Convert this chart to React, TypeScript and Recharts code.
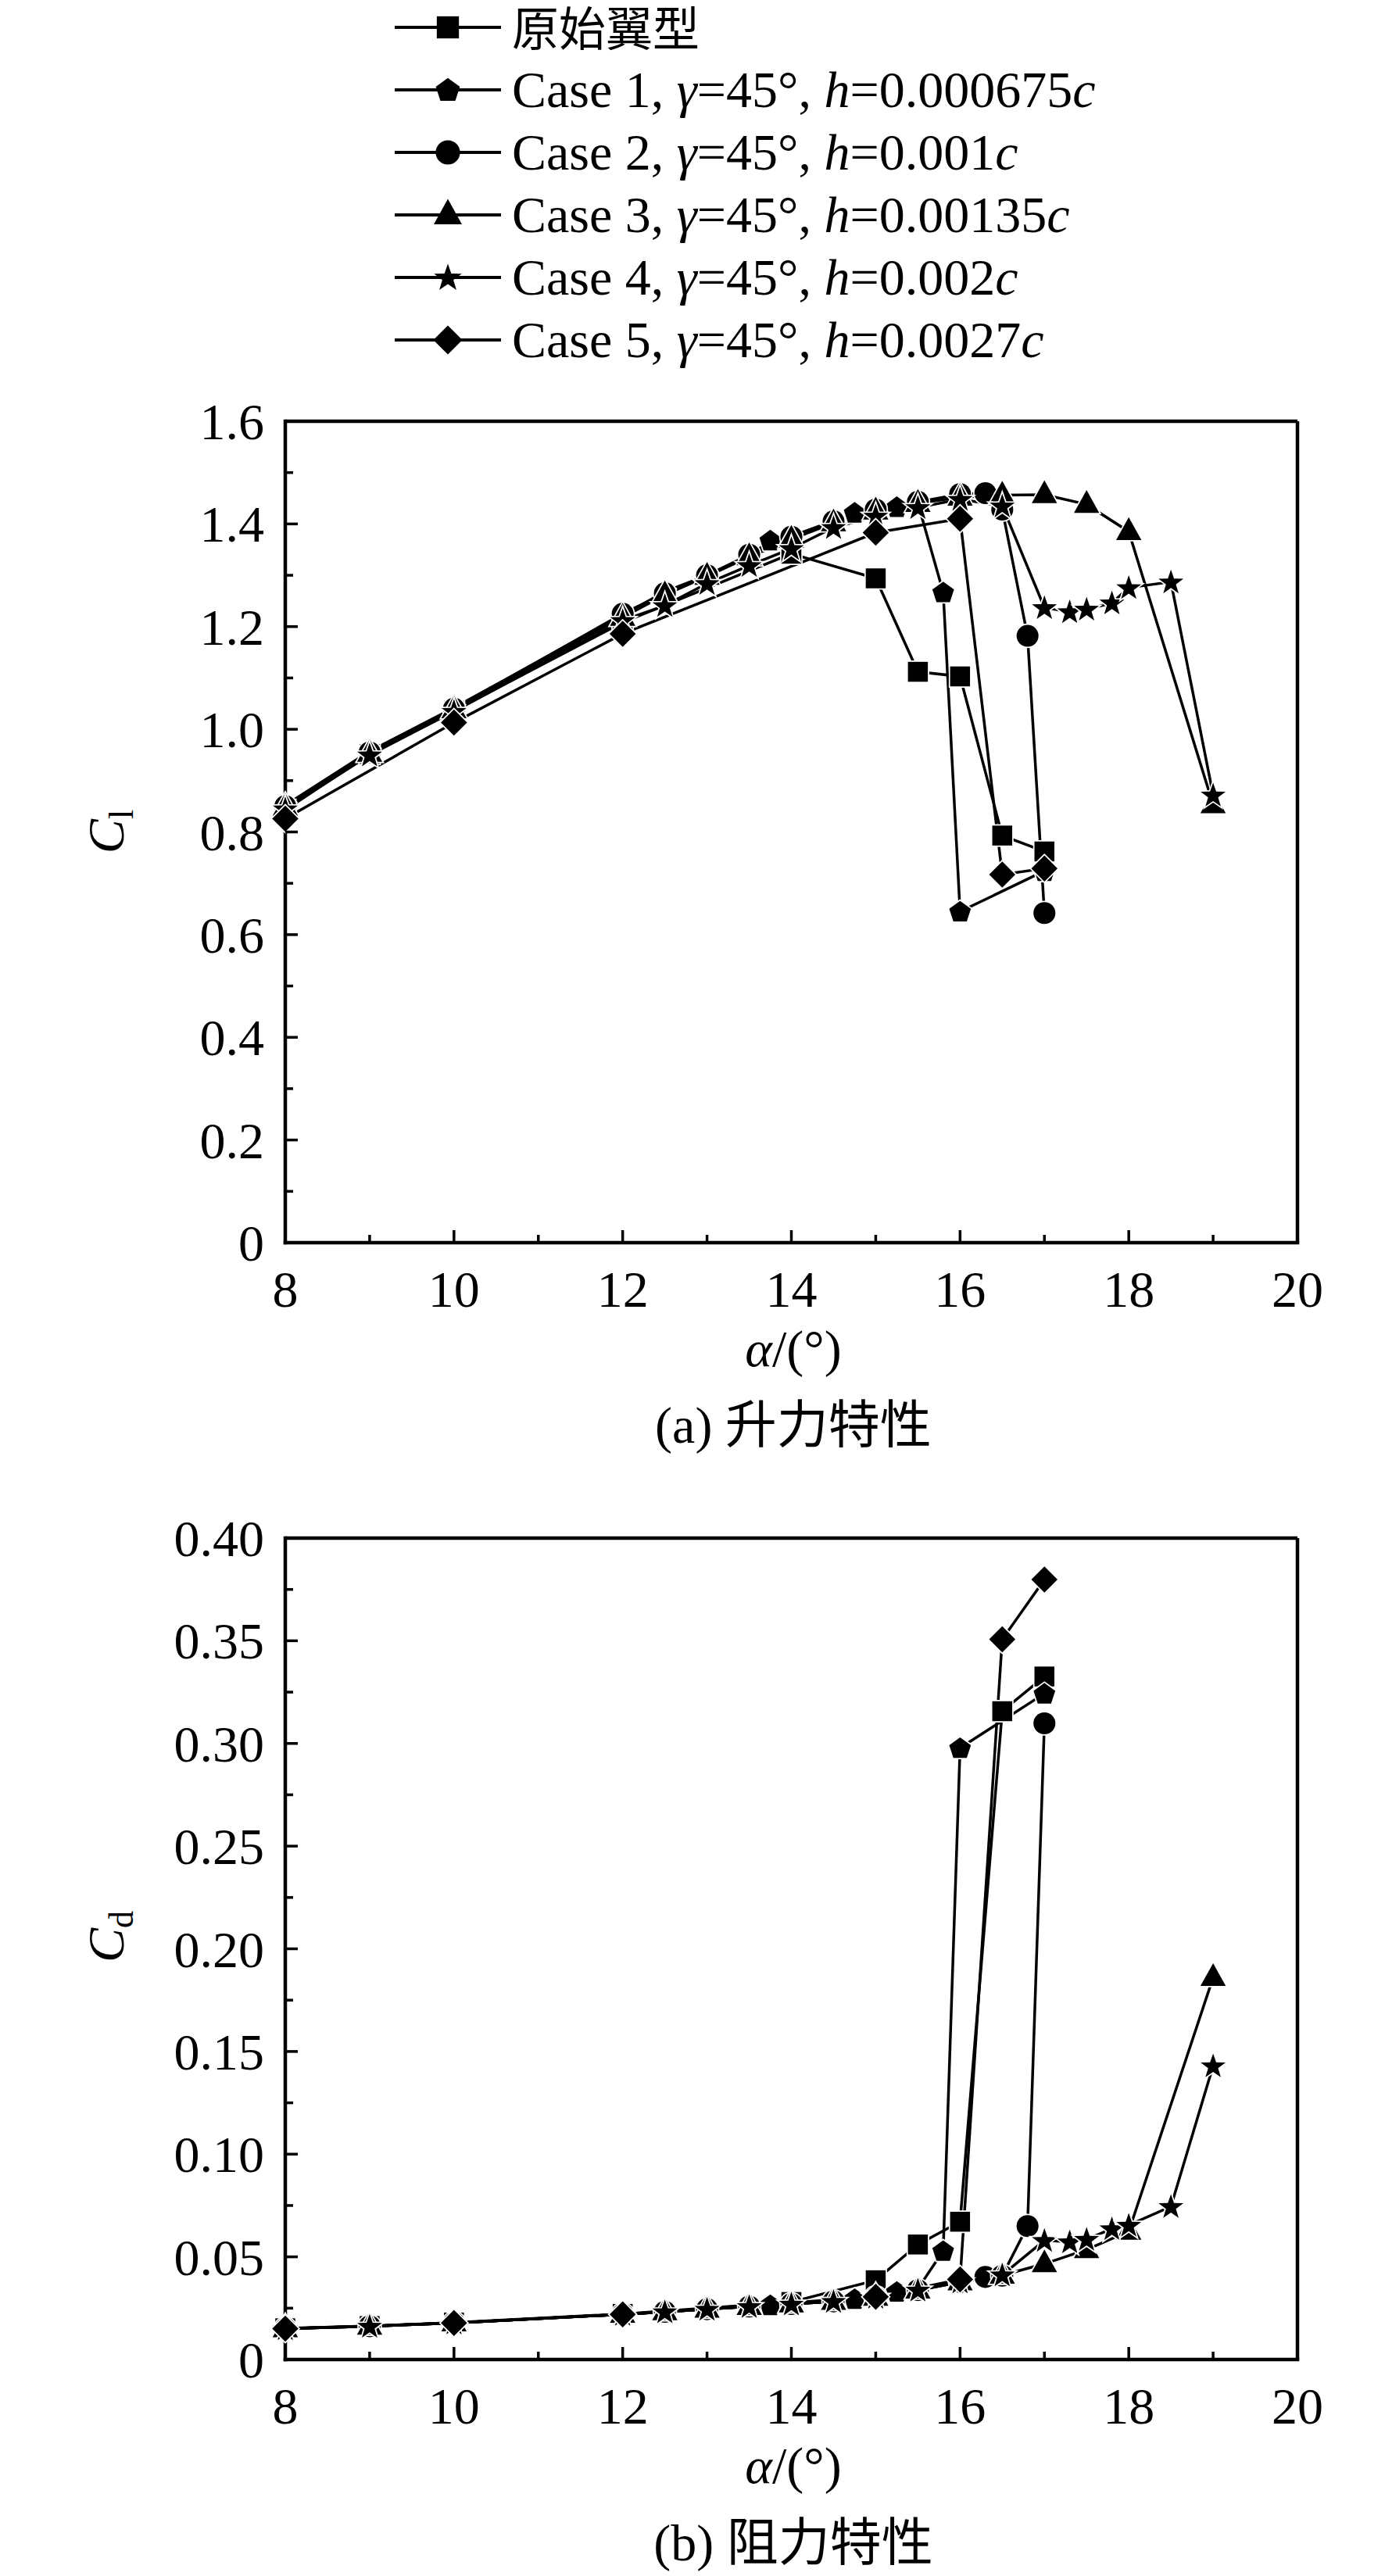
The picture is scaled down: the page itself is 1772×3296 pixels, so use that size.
import React from "react";
import { Line, LineChart, ReferenceLine, XAxis, YAxis } from "recharts";

const FONT = '"Liberation Serif", "Times New Roman", "Noto Sans CJK SC", serif';

// angle of attack ticks and axis ticks
const alphaTicks = [8, 9, 10, 11, 12, 13, 14, 15, 16, 17, 18, 19, 20];
const clTicks = [0, 0.1, 0.2, 0.3, 0.4, 0.5, 0.6, 0.7, 0.8, 0.9, 1.0, 1.1, 1.2, 1.3, 1.4, 1.5, 1.6];
const cdTicks = [0, 0.025, 0.05, 0.075, 0.1, 0.125, 0.15, 0.175, 0.2, 0.225, 0.25, 0.275, 0.3, 0.325, 0.35, 0.375, 0.4];

// 原始翼型
const sqAlpha = [8, 9, 10, 12, 14, 15, 15.5, 16, 16.5, 17];
const sqCl = [0.843, 0.952, 1.036, 1.208, 1.342, 1.294, 1.112, 1.103, 0.793, 0.762];
const sqCd = [0.0152, 0.0163, 0.018, 0.0222, 0.028, 0.0386, 0.056, 0.0671, 0.3157, 0.3326];

// Case 1
const c1Alpha = [8, 9, 10, 12, 12.5, 13, 13.5, 13.75, 14, 14.5, 14.75, 15, 15.25, 15.5, 15.8, 16, 17];
const c1Cl = [0.852, 0.957, 1.042, 1.222, 1.268, 1.3, 1.337, 1.368, 1.376, 1.406, 1.422, 1.43, 1.433, 1.44, 1.267, 0.645, 0.724];
const c1Cd = [0.015, 0.0162, 0.0178, 0.022, 0.0232, 0.0245, 0.0258, 0.0265, 0.027, 0.0285, 0.0295, 0.0305, 0.033, 0.0345, 0.0529, 0.2978, 0.3243];

// Case 2
const c2Alpha = [8, 9, 10, 12, 12.5, 13, 13.5, 14, 14.5, 15, 15.5, 16, 16.3, 16.5, 16.8, 17];
const c2Cl = [0.85, 0.955, 1.04, 1.225, 1.265, 1.3, 1.34, 1.375, 1.405, 1.428, 1.443, 1.458, 1.46, 1.428, 1.182, 0.642];
const c2Cd = [0.015, 0.0162, 0.0178, 0.022, 0.0232, 0.0245, 0.0258, 0.027, 0.0283, 0.0303, 0.0338, 0.0377, 0.0402, 0.0408, 0.065, 0.3098];

// Case 3
const c3Alpha = [8, 9, 10, 12, 12.5, 13, 13.5, 14, 14.5, 15, 15.5, 16, 16.5, 17, 17.5, 18, 19];
const c3Cl = [0.848, 0.953, 1.038, 1.218, 1.262, 1.298, 1.336, 1.37, 1.402, 1.425, 1.44, 1.452, 1.456, 1.457, 1.438, 1.385, 0.853];
const c3Cd = [0.015, 0.0162, 0.0178, 0.022, 0.0232, 0.0245, 0.0258, 0.027, 0.0283, 0.0303, 0.0338, 0.0378, 0.041, 0.0466, 0.0535, 0.0624, 0.186];

// Case 4
const c4Alpha = [8, 9, 10, 12, 12.5, 13, 13.5, 14, 14.5, 15, 15.5, 16, 16.5, 17, 17.3, 17.5, 17.8, 18, 18.5, 19];
const c4Cl = [0.845, 0.95, 1.035, 1.212, 1.241, 1.284, 1.319, 1.352, 1.393, 1.415, 1.432, 1.448, 1.435, 1.237, 1.229, 1.234, 1.246, 1.276, 1.287, 0.872];
const c4Cd = [0.015, 0.0162, 0.0178, 0.022, 0.0232, 0.0245, 0.0258, 0.027, 0.0283, 0.0303, 0.0338, 0.0378, 0.0412, 0.058, 0.0573, 0.0585, 0.0637, 0.0654, 0.0745, 0.143];

// Case 5
const c5Alpha = [8, 10, 12, 15, 16, 16.5, 17];
const c5Cl = [0.826, 1.013, 1.186, 1.383, 1.41, 0.717, 0.729];
const c5Cd = [0.015, 0.0178, 0.022, 0.0305, 0.039, 0.3507, 0.3798];

type Shape = "square" | "pentagon" | "circle" | "triangle" | "star" | "diamond";

const zip = (xs: number[], ys: number[]) => xs.map((a, i) => ({ a, v: ys[i] }));

const series: { shape: Shape; clData: { a: number; v: number }[]; cdData: { a: number; v: number }[] }[] = [
  { shape: "square", clData: zip(sqAlpha, sqCl), cdData: zip(sqAlpha, sqCd) },
  { shape: "pentagon", clData: zip(c1Alpha, c1Cl), cdData: zip(c1Alpha, c1Cd) },
  { shape: "circle", clData: zip(c2Alpha, c2Cl), cdData: zip(c2Alpha, c2Cd) },
  { shape: "triangle", clData: zip(c3Alpha, c3Cl), cdData: zip(c3Alpha, c3Cd) },
  { shape: "star", clData: zip(c4Alpha, c4Cl), cdData: zip(c4Alpha, c4Cd) },
  { shape: "diamond", clData: zip(c5Alpha, c5Cl), cdData: zip(c5Alpha, c5Cd) },
];

function polygon(cx: number, cy: number, radii: number[], start = -90) {
  const n = radii.length;
  return radii
    .map((r, k) => {
      const t = ((start + (360 / n) * k) * Math.PI) / 180;
      return `${cx + r * Math.cos(t)},${cy + r * Math.sin(t)}`;
    })
    .join(" ");
}

function Marker({ shape, cx, cy, s = 1.08, halo = true }: { shape: Shape; cx: number; cy: number; s?: number; halo?: boolean }) {
  const p = halo
    ? { fill: "#000", stroke: "#fff", strokeWidth: 3.5, style: { paintOrder: "stroke" } as React.CSSProperties }
    : { fill: "#000" };
  switch (shape) {
    case "square": {
      const h = 11.8 * s;
      return <rect x={cx - h} y={cy - h} width={2 * h} height={2 * h} {...p} />;
    }
    case "circle":
      return <circle cx={cx} cy={cy} r={13 * s} {...p} />;
    case "triangle": {
      const w = 15 * s;
      const pts = `${cx},${cy - 17 * s} ${cx + w},${cy + 10 * s} ${cx - w},${cy + 10 * s}`;
      return <polygon points={pts} {...p} />;
    }
    case "diamond": {
      const h = 15.5 * s;
      const pts = `${cx},${cy - h} ${cx + h},${cy} ${cx},${cy + h} ${cx - h},${cy}`;
      return <polygon points={pts} {...p} />;
    }
    case "pentagon":
      return <polygon points={polygon(cx, cy + 1, [13.5 * s, 13.5 * s, 13.5 * s, 13.5 * s, 13.5 * s])} {...p} />;
    case "star": {
      const o = 15.5 * s;
      const i = 6.2 * s;
      return <polygon points={polygon(cx, cy + 1, [o, i, o, i, o, i, o, i, o, i])} {...p} />;
    }
  }
  return null;
}

const renderDot = (shape: Shape) => (props: any) => (
  <Marker key={`${shape}-${props.index}`} shape={shape} cx={props.cx} cy={props.cy} />
);

function XTick(props: any) {
  const { x, y, payload } = props;
  const major = payload.value % 2 === 0;
  return (
    <g>
      <line x1={x} x2={x} y1={y} y2={y - (major ? 16 : 10)} stroke="#000" strokeWidth={3.5} />
      {major && (
        <text x={x} y={y + 82} textAnchor="middle" fontSize={66} fontFamily={FONT} fill="#000">
          {payload.value}
        </text>
      )}
    </g>
  );
}

function YTick(props: any) {
  const { x, y, payload, index, digits } = props;
  const major = index % 2 === 0;
  const label = payload.value === 0 ? "0" : Number(payload.value).toFixed(digits);
  return (
    <g>
      <line x1={x} x2={x + (major ? 16 : 10)} y1={y} y2={y} stroke="#000" strokeWidth={3.5} />
      {major && (
        <text x={x - 27} y={y + 23} textAnchor="end" fontSize={66} fontFamily={FONT} fill="#000">
          {label}
        </text>
      )}
    </g>
  );
}

const axisLine = { stroke: "#000", strokeWidth: 4.5, strokeLinecap: "square" as const };

function Panel({ which, top, marginTop, marginBottom }: { which: "cl" | "cd"; top: number; marginTop: number; marginBottom: number }) {
  const ticks = which === "cl" ? clTicks : cdTicks;
  const yMax = which === "cl" ? 1.6 : 0.4;
  const digits = which === "cl" ? 1 : 2;
  return (
    <div style={{ position: "absolute", left: 0, top, width: 1772, height: 1250 }}>
      <LineChart width={1772} height={1250} margin={{ top: marginTop, right: 112, bottom: marginBottom, left: 364 }}>
        <XAxis
          xAxisId="b"
          type="number"
          dataKey="a"
          domain={[8, 20]}
          ticks={alphaTicks}
          interval={0}
          height={1}
          tickSize={0}
          tickMargin={0}
          tickLine={false}
          axisLine={axisLine}
          tick={(p: any) => <XTick {...p} />}
        />
        <YAxis
          yAxisId="l"
          type="number"
          domain={[0, yMax]}
          ticks={ticks}
          interval={0}
          width={1}
          tickSize={0}
          tickMargin={0}
          tickLine={false}
          axisLine={axisLine}
          tick={(p: any) => <YTick {...p} digits={digits} />}
        />
        <ReferenceLine xAxisId="b" yAxisId="l" y={yMax} stroke="#000" strokeWidth={4.5} />
        <ReferenceLine xAxisId="b" yAxisId="l" x={20} stroke="#000" strokeWidth={4.5} />
        {series.map((s) => (
          <Line
            key={s.shape}
            xAxisId="b"
            yAxisId="l"
            data={which === "cl" ? s.clData : s.cdData}
            dataKey="v"
            type="linear"
            stroke="#000"
            strokeWidth={3.5}
            dot={renderDot(s.shape)}
            activeDot={false}
            isAnimationActive={false}
          />
        ))}
      </LineChart>
    </div>
  );
}

const legendRows: { shape: Shape; parts: [string, boolean][] }[] = [
  { shape: "square", parts: [["原始翼型", false]] },
  { shape: "pentagon", parts: [["Case 1, ", false], ["γ", true], ["=45°, ", false], ["h", true], ["=0.000675", false], ["c", true]] },
  { shape: "circle", parts: [["Case 2, ", false], ["γ", true], ["=45°, ", false], ["h", true], ["=0.001", false], ["c", true]] },
  { shape: "triangle", parts: [["Case 3, ", false], ["γ", true], ["=45°, ", false], ["h", true], ["=0.00135", false], ["c", true]] },
  { shape: "star", parts: [["Case 4, ", false], ["γ", true], ["=45°, ", false], ["h", true], ["=0.002", false], ["c", true]] },
  { shape: "diamond", parts: [["Case 5, ", false], ["γ", true], ["=45°, ", false], ["h", true], ["=0.0027", false], ["c", true]] },
];

function Overlay() {
  return (
    <svg width={1772} height={3296} style={{ position: "absolute", left: 0, top: 0, pointerEvents: "none" }} fontFamily={FONT}>
      {legendRows.map((r, i) => {
        const base = 57 + i * 80;
        const cy = base - 22;
        return (
          <g key={i}>
            <line x1={505} x2={641} y1={cy} y2={cy} stroke="#000" strokeWidth={4} />
            <Marker shape={r.shape} cx={573} cy={cy} s={1.2} halo={false} />
            <text x={655} y={i === 0 ? 59 : base} fontSize={i === 0 ? 60 : 66} fill="#000">
              {r.parts.map(([t, it], k) => (
                <tspan key={k} fontStyle={it ? "italic" : "normal"}>
                  {t}
                </tspan>
              ))}
            </text>
          </g>
        );
      })}

      {/* panel (a) */}
      <text transform="rotate(-90 158 1064)" x={158} y={1064} textAnchor="middle" fontSize={66} fill="#000">
        <tspan fontStyle="italic">C</tspan>
        <tspan fontSize={44} dy={12}>l</tspan>
      </text>
      <text x={1015} y={1748} textAnchor="middle" fontSize={66} fill="#000">
        <tspan fontStyle="italic">α</tspan>/(°)
      </text>
      <text x={1015} y={1846} textAnchor="middle" fontSize={66} fill="#000">
        (a) 升力特性
      </text>

      {/* panel (b) */}
      <text transform="rotate(-90 158 2478)" x={158} y={2478} textAnchor="middle" fontSize={66} fill="#000">
        <tspan fontStyle="italic">C</tspan>
        <tspan fontSize={44} dy={12}>d</tspan>
      </text>
      <text x={1015} y={3177} textAnchor="middle" fontSize={66} fill="#000">
        <tspan fontStyle="italic">α</tspan>/(°)
      </text>
      <text x={1015} y={3276} textAnchor="middle" fontSize={66} fill="#000">
        (b) 阻力特性
      </text>
    </svg>
  );
}

export default function App() {
  return (
    <div style={{ position: "absolute", left: 0, top: 0, width: 1772, height: 3296, background: "#fff", overflow: "hidden" }}>
      <Panel which="cl" top={480} marginTop={59} marginBottom={139} />
      <Panel which="cd" top={1900} marginTop={68} marginBottom={130} />
      <Overlay />
    </div>
  );
}
